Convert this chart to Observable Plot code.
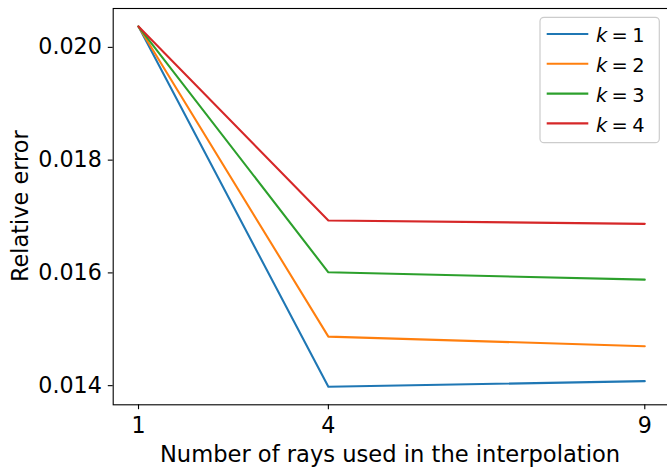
<!DOCTYPE html>
<html>
<head>
<meta charset="utf-8">
<script src="https://cdn.jsdelivr.net/npm/d3@7"></script>
<script src="https://cdn.jsdelivr.net/npm/@observablehq/plot@0.6"></script>
<style>
  html, body { margin: 0; padding: 0; background: white; overflow: hidden; }
</style>
</head>
<body>
<div id="chart"></div>
<script>
// ---- data ----
const rays = [1, 4, 9];
const seriesNames = ["k = 1", "k = 2", "k = 3", "k = 4"];
const kNumbers = ["1", "2", "3", "4"];
const k1 = [0.02037, 0.01398, 0.01408];
const k2 = [0.02037, 0.01487, 0.01470];
const k3 = [0.02037, 0.01601, 0.01588];
const k4 = [0.02037, 0.01693, 0.01687];
const colors = ["#1f77b4", "#ff7f0e", "#2ca02c", "#d62728"];
const yTicks = [0.014, 0.016, 0.018, 0.020];
const xTicks = [1, 4, 9];
const xLabel = "Number of rays used in the interpolation";
const yLabel = "Relative error";

const allSeries = [k1, k2, k3, k4];
const rows = [];
allSeries.forEach((vals, s) => vals.forEach((v, i) => rows.push({x: rays[i], y: v, k: seriesNames[s]})));

// matplotlib-like 5% autoscale margins
function pad(ext) { const d = (ext[1] - ext[0]) * 0.05; return [ext[0] - d, ext[1] + d]; }
const xDomain = pad(d3.extent(rays));
const yDomain = pad(d3.extent(rows, d => d.y));

const W = 667, H = 468;
const ML = 112.7, MT = 8, MB = H - 404.3, MR = -2.6;

const plot = Plot.plot({
  width: W,
  height: H,
  marginLeft: ML,
  marginTop: MT,
  marginBottom: MB,
  marginRight: MR,
  style: {fontFamily: "'DejaVu Sans', sans-serif", fontSize: "22.2px", color: "black", background: "white", maxWidth: "none"},
  x: {domain: xDomain},
  y: {domain: yDomain},
  color: {domain: seriesNames, range: colors},
  marks: [
    Plot.line(rows, {x: "x", y: "y", z: "k", stroke: "k", strokeWidth: 2.08}),
    Plot.axisX({ticks: xTicks, tickFormat: d => String(d), tickSize: 4.9, tickPadding: 7.5, strokeWidth: 1.1, label: null}),
    Plot.axisY({ticks: yTicks, tickFormat: d => d.toFixed(3), tickSize: 4.9, tickPadding: 6.5, strokeWidth: 1.1, label: null}),
    Plot.frame({stroke: "black", strokeWidth: 1.1})
  ]
});
document.getElementById("chart").appendChild(plot);

const svg = d3.select(plot);
// axis labels
svg.append("text")
  .attr("x", 390).attr("y", 461.5)
  .attr("text-anchor", "middle")
  .attr("font-size", "22.6px").attr("fill", "black")
  .text(xLabel);
svg.append("text")
  .attr("transform", `translate(28,${(MT + 404.3) / 2}) rotate(-90)`)
  .attr("text-anchor", "middle")
  .attr("font-size", "22.4px").attr("fill", "black")
  .text(yLabel);

// legend
const lg = svg.append("g");
lg.append("rect")
  .attr("x", 540).attr("y", 17.3).attr("width", 119.3).attr("height", 125.4)
  .attr("rx", 4).attr("ry", 4)
  .attr("fill", "white").attr("fill-opacity", 0.8)
  .attr("stroke", "#cccccc").attr("stroke-width", 1.2);
seriesNames.forEach((name, i) => {
  const cy = 34 + i * 29.8;
  lg.append("line")
    .attr("x1", 546.7).attr("x2", 588.3).attr("y1", cy).attr("y2", cy)
    .attr("stroke", colors[i]).attr("stroke-width", 2.08);
  const by = cy + 8.3;
  lg.append("text").attr("x", 601.5).attr("y", by).attr("font-size", "19.4px")
    .attr("font-style", "italic").attr("fill", "black").text("k");
  lg.append("text").attr("x", 619.5).attr("y", by).attr("font-size", "19.4px")
    .attr("fill", "black").text("=");
  lg.append("text").attr("x", 638.5).attr("y", by).attr("font-size", "19.4px")
    .attr("fill", "black").text(kNumbers[i]);
});
</script>
</body>
</html>
